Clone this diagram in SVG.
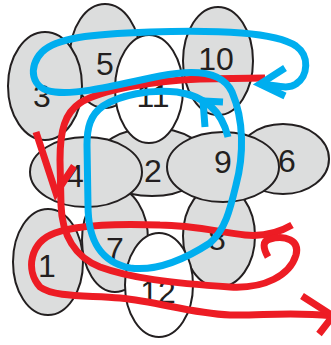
<svg xmlns="http://www.w3.org/2000/svg" width="331" height="345" viewBox="0 0 331 345">
<style>
.g{fill:#dcdddd;stroke:#231f20;stroke-width:2}
.w{fill:#ffffff;stroke:#231f20;stroke-width:2}
.t{font-family:"Liberation Sans",Arial,sans-serif;font-size:32px;fill:#231f20;text-anchor:middle}
.b{fill:none;stroke:#00aeef;stroke-width:7;stroke-linejoin:miter}
.r{fill:none;stroke:#ed1c24;stroke-width:7;stroke-linejoin:miter}
</style>
<rect width="331" height="345" fill="#ffffff"/>
<g id="n6"><ellipse class="g" cx="283" cy="159" rx="46" ry="35"/><text class="t" x="287" y="172">6</text></g>
<g id="n2"><ellipse class="g" cx="152" cy="162" rx="56" ry="34"/><text class="t" x="153" y="182">2</text></g>
<g id="n8"><ellipse class="g" cx="219" cy="236" rx="36" ry="51"/><text class="t" x="217" y="250">8</text></g>
<g id="n7"><ellipse class="g" cx="115" cy="240" rx="33" ry="52"/><text class="t" x="115" y="260">7</text></g>
<g id="n5"><ellipse class="g" cx="105" cy="56" rx="35" ry="52"/><text class="t" x="105" y="75">5</text></g>
<g id="n3"><ellipse class="g" cx="45" cy="86" rx="37" ry="54"/><text class="t" x="42" y="107">3</text></g>
<g id="n4"><ellipse class="g" cx="86" cy="172" rx="56" ry="35"/><text class="t" x="75" y="187">4</text></g>
<g id="n9"><ellipse class="g" cx="223" cy="167" rx="56" ry="35"/><text class="t" x="223" y="173">9</text></g>
<g id="n1"><ellipse class="g" cx="48" cy="262" rx="35" ry="53"/><text class="t" x="47" y="277">1</text></g>
<g id="n11"><ellipse class="w" cx="149" cy="89" rx="34" ry="54"/><text class="t" x="153" y="107">11</text></g>
<g id="n10"><ellipse class="g" cx="218" cy="61" rx="35" ry="54"/><text class="t" x="216" y="70">10</text></g>
<g id="n12"><ellipse class="w" cx="159" cy="285" rx="34" ry="52"/><text class="t" x="158" y="303">12</text></g>
<g id="connectors">
<path class="r" d="M 292 225 C 280 232, 265 237, 245 235 C 220 232, 190 225, 160 225 C 120 224, 80 224, 55 233 C 30 242, 25 270, 40 287 C 55 298, 90 295, 120 298 C 160 302, 190 313, 230 315 C 260 316, 290 311, 333 316"/>
<polyline class="r" points="302,296 333,316 319,334"/>
<path class="r" d="M 265 78 L 200 79 C 150 81, 100 90, 80 103 C 65 113, 60 130, 60 160 L 61 205 C 62 235, 75 257, 100 267 C 130 278, 170 283, 230 287 C 265 289, 290 275, 296 255 C 300 240, 285 235, 270 239 C 262 241, 263 248, 268 257"/>
<polyline class="r" points="36,132 56,193 74,166"/>
<path class="b" d="M 228 137 C 222 112, 205 96, 177 92 C 150 89, 120 95, 103 106 C 90 115, 87 128, 87 145 L 88 205 C 88 240, 100 262, 130 268 C 160 272, 190 256, 210 243 C 225 230, 230 210, 236 185 C 244 155, 244 120, 232 92 C 222 70, 190 70, 160 76 C 120 84, 80 95, 55 92 C 30 90, 28 66, 42 52 C 56 38, 90 34, 150 32 C 220 30, 275 32, 296 46 C 310 56, 308 76, 296 84 C 288 90, 275 85, 260 84"/>
<polyline class="b" points="285,68 260,84 285,96"/>
<polyline class="b" points="205,127 203,101 223,102"/>
</g>
</svg>
